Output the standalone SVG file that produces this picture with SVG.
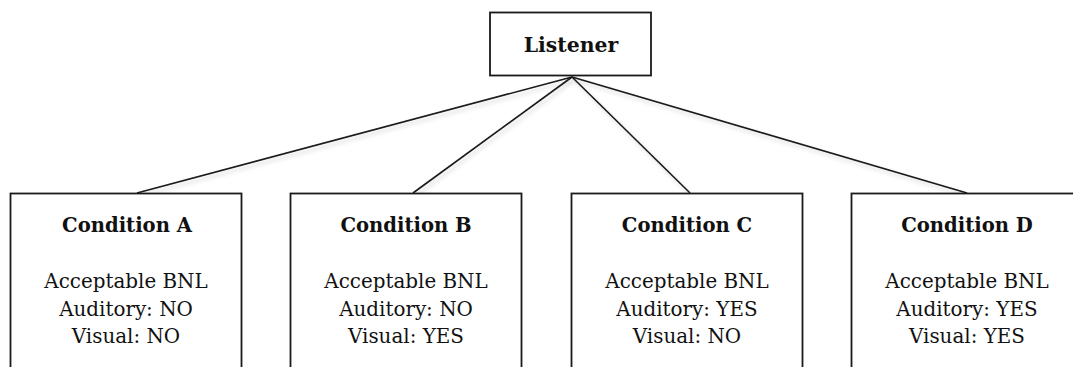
<svg xmlns="http://www.w3.org/2000/svg" width="1073" height="367" viewBox="0 0 1073 367">
<style>
.box{fill:#fff;stroke:#1a1a1a;stroke-width:1.8}
.edge{stroke:#1a1a1a;stroke-width:1.6;fill:none}
.t{font-family:"DejaVu Serif","Liberation Serif",serif;fill:#111;text-anchor:middle}
.h{font-weight:bold;font-size:19.6px}
.hl{font-weight:bold;font-size:20.4px}
.b{font-size:19.9px}
</style>
<defs>
<filter id="sh" x="-10%" y="-10%" width="120%" height="130%">
<feDropShadow dx="2" dy="3" stdDeviation="2" flood-color="#000" flood-opacity="0.18"/>
</filter>
</defs>
<rect width="1073" height="367" fill="#fff"/>
<g id="connectors" filter="url(#sh)">
<line class="edge" x1="572" y1="77" x2="137" y2="193"/>
<line class="edge" x1="572" y1="77" x2="413" y2="193"/>
<line class="edge" x1="572" y1="77" x2="690" y2="193"/>
<line class="edge" x1="572" y1="77" x2="967" y2="193"/>
</g>
<g id="listener">
<rect class="box" x="490" y="12.5" width="161" height="63"/>
<text class="t hl" x="571" y="52">Listener</text>
</g>
<g id="condA">
<rect class="box" x="10.5" y="193.5" width="231" height="190"/>
<text class="t h" x="127" y="232">Condition A</text>
<text class="t b" x="126" y="288">Acceptable BNL</text>
<text class="t b" x="126" y="316">Auditory: NO</text>
<text class="t b" x="126" y="343">Visual: NO</text>
</g>
<g id="condB">
<rect class="box" x="290.5" y="193.5" width="231" height="190"/>
<text class="t h" x="406" y="232">Condition B</text>
<text class="t b" x="406" y="288">Acceptable BNL</text>
<text class="t b" x="406" y="316">Auditory: NO</text>
<text class="t b" x="406" y="343">Visual: YES</text>
</g>
<g id="condC">
<rect class="box" x="571.5" y="193.5" width="231" height="190"/>
<text class="t h" x="687" y="232">Condition C</text>
<text class="t b" x="687" y="288">Acceptable BNL</text>
<text class="t b" x="687" y="316">Auditory: YES</text>
<text class="t b" x="687" y="343">Visual: NO</text>
</g>
<g id="condD">
<rect class="box" x="851.5" y="193.5" width="231" height="190"/>
<text class="t h" x="967" y="232">Condition D</text>
<text class="t b" x="967" y="288">Acceptable BNL</text>
<text class="t b" x="967" y="316">Auditory: YES</text>
<text class="t b" x="967" y="343">Visual: YES</text>
</g>
</svg>
